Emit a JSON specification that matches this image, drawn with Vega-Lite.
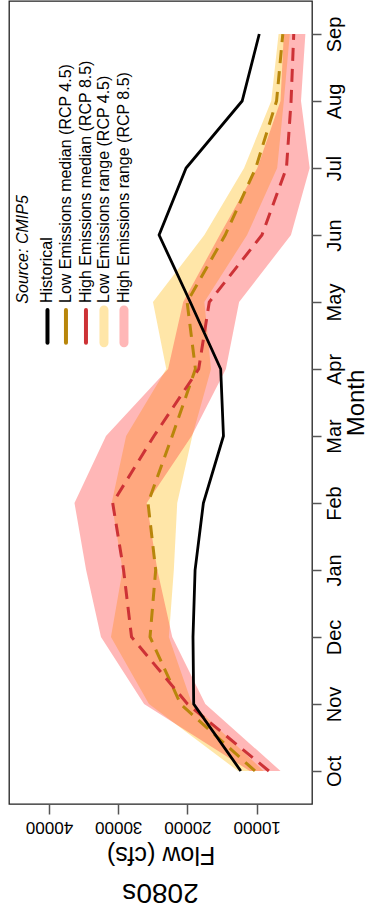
{
  "$schema": "https://vega.github.io/schema/vega-lite/v6.json",
  "width": 303,
  "height": 803,
  "autosize": {"type": "none"},
  "padding": {"left": 9, "top": 1, "right": 56, "bottom": 113},
  "background": "white",
  "config": {
    "font": "Liberation Sans",
    "view": {"stroke": "#222222", "strokeWidth": 1.3},
    "axis": {"grid": false, "domain": false, "labelColor": "black", "titleColor": "black", "tickColor": "#555555", "tickWidth": 1.5, "titleFontWeight": "normal"}
  },
  "title": {"text": "2080s", "orient": "bottom", "angle": 180, "fontSize": 28, "fontWeight": "normal", "baseline": "bottom", "offset": 12, "color": "black"},
  "datasets": {
    "flows": [
      {"m": 1, "month": "Oct", "hist": 12300, "lowMed": 10250, "highMed": 8240, "lowMax": 12700, "lowMin": 9000, "highMax": 11000, "highMin": 6560},
      {"m": 2, "month": "Nov", "hist": 19100, "lowMed": 21000, "highMed": 20000, "lowMax": 25560, "lowMin": 19330, "highMax": 26270, "highMin": 17420},
      {"m": 3, "month": "Dec", "hist": 19200, "lowMed": 25410, "highMed": 28080, "lowMax": 31050, "lowMin": 22690, "highMax": 32490, "highMin": 22200},
      {"m": 4, "month": "Jan", "hist": 18900, "lowMed": 24590, "highMed": 29230, "lowMax": 29370, "lowMin": 21970, "highMax": 34640, "highMin": 24350},
      {"m": 5, "month": "Feb", "hist": 17700, "lowMed": 25700, "highMed": 30800, "lowMax": 30950, "lowMin": 21480, "highMax": 36320, "highMin": 25890},
      {"m": 6, "month": "Mar", "hist": 14800, "lowMed": 22200, "highMed": 24840, "lowMax": 28860, "lowMin": 19300, "highMax": 31770, "highMin": 19400},
      {"m": 7, "month": "Apr", "hist": 15200, "lowMed": 18850, "highMed": 18380, "lowMax": 23060, "lowMin": 16600, "highMax": 22800, "highMin": 14450},
      {"m": 8, "month": "May", "hist": 19600, "lowMed": 20050, "highMed": 16850, "lowMax": 24980, "lowMin": 17560, "highMax": 20620, "highMin": 12540},
      {"m": 9, "month": "Jun", "hist": 24100, "lowMed": 14550, "highMed": 9240, "lowMax": 17560, "lowMin": 11390, "highMax": 15340, "highMin": 5050},
      {"m": 10, "month": "Jul", "hist": 20200, "lowMed": 10140, "highMed": 5700, "lowMax": 11820, "lowMin": 7040, "highMax": 9910, "highMin": 2350},
      {"m": 11, "month": "Aug", "hist": 12100, "lowMed": 7130, "highMed": 5035, "lowMax": 7900, "lowMin": 6080, "highMax": 6560, "highMin": 3600},
      {"m": 12, "month": "Sep", "hist": 9630, "lowMed": 6230, "highMed": 4650, "lowMax": 6840, "lowMin": 5220, "highMax": 6080, "highMin": 2970}
    ],
    "legend": [
      {"kind": "Historical", "label": "Historical", "flow": 40220, "textStart": 7.985, "symTop": 7.88, "symBottom": 7.39},
      {"kind": "Low median", "label": "Low Emissions median (RCP 4.5)", "flow": 37550, "textStart": 7.985, "symTop": 7.88, "symBottom": 7.39},
      {"kind": "High median", "label": "High Emissions median (RCP 8.5)", "flow": 34660, "textStart": 7.985, "symTop": 7.88, "symBottom": 7.39},
      {"kind": "Low range", "label": "Low Emissions range (RCP 4.5)", "flow": 32060, "textStart": 7.985, "symTop": 7.88, "symBottom": 7.39},
      {"kind": "High range", "label": "High Emissions range (RCP 8.5)", "flow": 29170, "textStart": 7.985, "symTop": 7.88, "symBottom": 7.39}
    ],
    "source": [
      {"label": "Source: CMIP5", "flow": 43760, "textStart": 7.975}
    ]
  },
  "layer": [
    {
      "data": {"name": "flows"},
      "mark": {"type": "area", "orient": "horizontal", "color": "#FFC125", "opacity": 0.4},
      "encoding": {
        "y": {"field": "m", "type": "quantitative", "scale": {"domain": [0.507, 12.493], "nice": false, "zero": false},
          "axis": {"orient": "right", "values": [1,2,3,4,5,6,7,8,9,10,11,12],
            "labelExpr": "['Oct','Nov','Dec','Jan','Feb','Mar','Apr','May','Jun','Jul','Aug','Sep'][datum.value - 1]",
            "labelAngle": 270, "labelAlign": "center", "labelBaseline": "top", "labelFontSize": 20, "labelPadding": 3,
            "tickSize": 9, "title": "Month", "titleAngle": 270, "titleBaseline": "top", "titleFontSize": 24, "titlePadding": 0}},
        "x": {"field": "lowMax", "type": "quantitative", "scale": {"domain": [2012, 45778], "nice": false, "zero": false, "reverse": true},
          "axis": {"orient": "bottom", "values": [10000, 20000, 30000, 40000], "format": "d",
            "labelAngle": 180, "labelAlign": "center", "labelBaseline": "bottom", "labelFontSize": 17, "labelPadding": 3,
            "tickSize": 10, "title": "Flow (cfs)", "titleAngle": 180, "titleBaseline": "bottom", "titleFontSize": 25, "titlePadding": 6}},
        "x2": {"field": "lowMin"}
      }
    },
    {
      "data": {"name": "flows"},
      "mark": {"type": "area", "orient": "horizontal", "color": "#FF3030", "opacity": 0.35},
      "encoding": {
        "y": {"field": "m", "type": "quantitative", "scale": {"domain": [0.507, 12.493], "nice": false, "zero": false}},
        "x": {"field": "highMax", "type": "quantitative", "scale": {"domain": [2012, 45778], "nice": false, "zero": false, "reverse": true}},
        "x2": {"field": "highMin"}
      }
    },
    {
      "data": {"name": "flows"},
      "mark": {"type": "line", "color": "#B8860B", "strokeWidth": 3, "strokeDash": [13, 8]},
      "encoding": {
        "y": {"field": "m", "type": "quantitative", "scale": {"domain": [0.507, 12.493], "nice": false, "zero": false}},
        "x": {"field": "lowMed", "type": "quantitative", "scale": {"domain": [2012, 45778], "nice": false, "zero": false, "reverse": true}},
        "order": {"field": "m"}
      }
    },
    {
      "data": {"name": "flows"},
      "mark": {"type": "line", "color": "#CD3236", "strokeWidth": 3, "strokeDash": [13, 8]},
      "encoding": {
        "y": {"field": "m", "type": "quantitative", "scale": {"domain": [0.507, 12.493], "nice": false, "zero": false}},
        "x": {"field": "highMed", "type": "quantitative", "scale": {"domain": [2012, 45778], "nice": false, "zero": false, "reverse": true}},
        "order": {"field": "m"}
      }
    },
    {
      "data": {"name": "flows"},
      "mark": {"type": "line", "color": "black", "strokeWidth": 2.8},
      "encoding": {
        "y": {"field": "m", "type": "quantitative", "scale": {"domain": [0.507, 12.493], "nice": false, "zero": false}},
        "x": {"field": "hist", "type": "quantitative", "scale": {"domain": [2012, 45778], "nice": false, "zero": false, "reverse": true}},
        "order": {"field": "m"}
      }
    },
    {
      "data": {"name": "legend"},
      "mark": {"type": "text", "angle": 270, "align": "left", "baseline": "middle", "fontSize": 16, "color": "black"},
      "encoding": {
        "y": {"field": "textStart", "type": "quantitative", "scale": {"domain": [0.507, 12.493], "nice": false, "zero": false}},
        "x": {"field": "flow", "type": "quantitative", "scale": {"domain": [2012, 45778], "nice": false, "zero": false, "reverse": true}},
        "text": {"field": "label"}
      }
    },
    {
      "data": {"name": "source"},
      "mark": {"type": "text", "angle": 270, "align": "left", "baseline": "middle", "fontSize": 16, "fontStyle": "italic", "color": "black"},
      "encoding": {
        "y": {"field": "textStart", "type": "quantitative", "scale": {"domain": [0.507, 12.493], "nice": false, "zero": false}},
        "x": {"field": "flow", "type": "quantitative", "scale": {"domain": [2012, 45778], "nice": false, "zero": false, "reverse": true}},
        "text": {"field": "label"}
      }
    },
    {
      "data": {"name": "legend"},
      "transform": [{"filter": "datum.kind == 'Historical' || datum.kind == 'Low median' || datum.kind == 'High median'"}],
      "mark": {"type": "rule", "strokeWidth": 4, "strokeCap": "round"},
      "encoding": {
        "y": {"field": "symTop", "type": "quantitative", "scale": {"domain": [0.507, 12.493], "nice": false, "zero": false}},
        "y2": {"field": "symBottom"},
        "x": {"field": "flow", "type": "quantitative", "scale": {"domain": [2012, 45778], "nice": false, "zero": false, "reverse": true}},
        "color": {"field": "kind", "type": "nominal", "legend": null,
          "scale": {"domain": ["Historical", "Low median", "High median", "Low range", "High range"], "range": ["#000000", "#B8860B", "#CD3236", "#FFC125", "#FF3030"]}}
      }
    },
    {
      "data": {"name": "legend"},
      "transform": [{"filter": "datum.kind == 'Low range' || datum.kind == 'High range'"}],
      "mark": {"type": "rule", "strokeWidth": 9, "strokeCap": "round"},
      "encoding": {
        "y": {"field": "symTop", "type": "quantitative", "scale": {"domain": [0.507, 12.493], "nice": false, "zero": false}},
        "y2": {"field": "symBottom"},
        "x": {"field": "flow", "type": "quantitative", "scale": {"domain": [2012, 45778], "nice": false, "zero": false, "reverse": true}},
        "color": {"field": "kind", "type": "nominal", "legend": null,
          "scale": {"domain": ["Historical", "Low median", "High median", "Low range", "High range"], "range": ["#000000", "#B8860B", "#CD3236", "#FFC125", "#FF3030"]}},
        "opacity": {"field": "kind", "type": "nominal", "legend": null, "scale": {"domain": ["Low range", "High range"], "range": [0.4, 0.35]}}
      }
    }
  ]
}
